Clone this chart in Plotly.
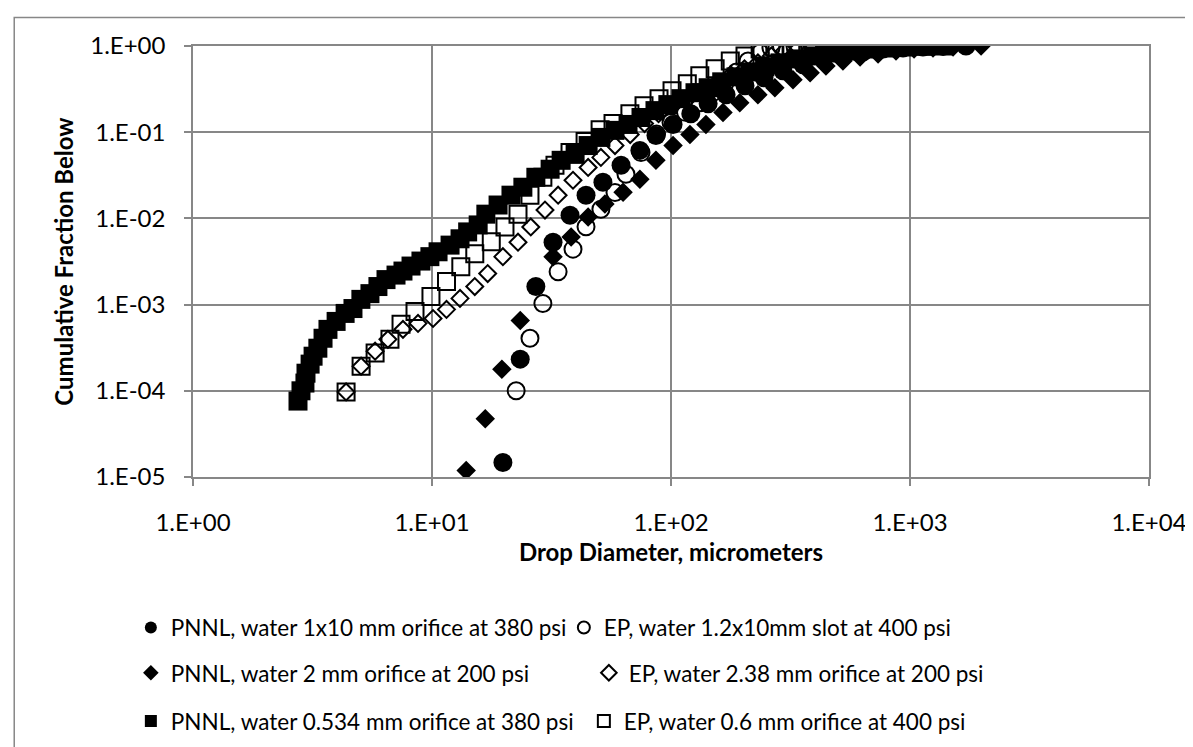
import plotly.graph_objects as go

# PNNL, water 1x10 mm orifice at 380 psi
PNNL_1X10_D = [19.8, 23.4, 27.2, 32.1, 37.8, 44.1, 51.9, 61.8, 74.1, 86.5, 102, 121, 143, 170,
               204, 245, 294, 357, 433, 524, 635, 771, 935, 1133, 1375, 1715]
PNNL_1X10_F = [1.47e-5, 2.33e-4, 1.62e-3, 5.3e-3, 1.09e-2, 1.86e-2, 2.63e-2, 4.13e-2, 6.15e-2,
               0.0916, 0.123, 0.164, 0.214, 0.272, 0.346, 0.428, 0.515, 0.604, 0.708, 0.787,
               0.853, 0.923, 0.948, 0.975, 0.99, 1.0]

# EP, water 1.2x10mm slot at 400 psi
EP_SLOT_D = [22.5, 25.7, 29.1, 33.7, 38.9, 44.1, 50.9, 58.3, 64.8, 74.9, 87, 100, 115, 132,
             150, 168, 188, 210, 236, 262, 290, 330, 380, 440]
EP_SLOT_F = [1.0e-4, 4.07e-4, 1.03e-3, 2.41e-3, 4.4e-3, 8.0e-3, 1.28e-2, 2.0e-2, 3.25e-2,
             5.8e-2, 0.095, 0.13, 0.17, 0.22, 0.29, 0.37, 0.50, 0.67, 0.83, 0.95, 0.99,
             1.0, 1.0, 1.0]

# PNNL, water 2 mm orifice at 200 psi
PNNL_2MM_D = [13.9, 16.7, 19.6, 23.4, 32.1, 38.2, 45.0, 52.9, 63.0, 74.1, 86.5, 102, 120,
              140, 165, 194, 231, 272, 324, 382, 445, 524, 618, 735, 874, 1040, 1248, 1514,
              1983]
PNNL_2MM_F = [1.19e-5, 4.73e-5, 1.78e-4, 6.56e-4, 3.59e-3, 6.1e-3, 1.04e-2, 1.47e-2, 2.01e-2,
              2.85e-2, 4.72e-2, 0.070, 0.094, 0.123, 0.169, 0.220, 0.272, 0.328, 0.405,
              0.489, 0.588, 0.671, 0.747, 0.809, 0.875, 0.923, 0.948, 0.975, 1.0]

# EP, water 2.38 mm orifice at 200 psi
EP_238_D = [4.37, 5.05, 5.78, 6.54, 7.56, 8.74, 10.1, 11.5, 13.1, 15.1, 17.1, 19.8, 22.9,
            25.9, 29.7, 33.7, 38.9, 45.0, 50.9, 58.3, 67.5, 77.5, 88.7, 102, 118, 135, 154,
            178, 203, 231, 263, 298, 342, 393, 453, 512]
EP_238_F = [9.7e-5, 1.93e-4, 2.88e-4, 3.95e-4, 5.16e-4, 6.05e-4, 6.9e-4, 8.8e-4, 1.18e-3,
            1.62e-3, 2.29e-3, 3.6e-3, 5.3e-3, 7.96e-3, 1.25e-2, 1.86e-2, 2.77e-2, 3.9e-2,
            5.1e-2, 0.07, 0.094, 0.126, 0.164, 0.203, 0.245, 0.295, 0.364, 0.463, 0.543,
            0.637, 0.767, 0.876, 0.948, 1.0, 1.0, 1.0]

# PNNL, water 0.534 mm orifice at 380 psi
PNNL_0534_D = [2.75, 2.83, 2.94, 2.97, 3.09, 3.18, 3.33, 3.50, 3.67, 3.97, 4.33, 4.67, 5.04,
               5.50, 5.94, 6.42, 7.07, 7.56, 8.17, 8.99, 9.8, 10.6, 11.9, 13.1, 14.1, 15.6,
               16.8, 18.9, 21.4, 24.0, 27.2, 31.2, 34.7, 39.7, 45.0, 50.9, 58.3, 66.1, 74.9,
               85.7, 97, 110, 126, 143, 163, 187, 214, 247, 286, 333, 393, 463, 550, 655,
               779, 935, 1130, 1375]
PNNL_0534_F = [7.6e-5, 1.0e-4, 1.23e-4, 1.6e-4, 2.04e-4, 2.52e-4, 3.12e-4, 4.07e-4, 5.16e-4,
               6.38e-4, 7.9e-4, 9.0e-4, 1.15e-3, 1.34e-3, 1.62e-3, 1.95e-3, 2.2e-3, 2.45e-3,
               2.8e-3, 3.2e-3, 3.6e-3, 4.1e-3, 4.9e-3, 5.8e-3, 6.97e-3, 8.4e-3, 1.12e-2,
               1.43e-2, 1.86e-2, 2.30e-2, 3.0e-2, 3.72e-2, 4.72e-2, 5.53e-2, 7.0e-2, 8.7e-2,
               0.105, 0.123, 0.148, 0.178, 0.209, 0.245, 0.287, 0.328, 0.384, 0.439, 0.501,
               0.573, 0.637, 0.708, 0.767, 0.830, 0.875, 0.923, 0.948, 0.974, 0.99, 1.0]

# EP, water 0.6 mm orifice at 400 psi
EP_06_D = [4.37, 5.05, 5.78, 6.67, 7.42, 8.49, 9.9, 11.5, 13.2, 15.1, 17.7, 20.2, 22.9, 25.7,
           29.1, 32.7, 37.8, 43.7, 50.5, 57.2, 67.3, 77.1, 89.1, 101, 117, 132, 153, 177,
           204, 236, 272, 318, 374, 441, 500]
EP_06_F = [9.7e-5, 1.93e-4, 2.74e-4, 3.95e-4, 5.9e-4, 8.3e-4, 1.24e-3, 1.85e-3, 2.75e-3,
           3.9e-3, 5.35e-3, 7.96e-3, 1.12e-2, 1.86e-2, 3.0e-2, 4.13e-2, 5.83e-2, 7.8e-2,
           0.107, 0.126, 0.164, 0.203, 0.245, 0.303, 0.365, 0.451, 0.543, 0.671, 0.767,
           0.923, 0.974, 1.0, 1.0, 1.0, 1.0]

X_TICKS = [1, 10, 100, 1000, 10000]
X_LABELS = ['1.E+00', '1.E+01', '1.E+02', '1.E+03', '1.E+04']
Y_TICKS = [1e-5, 1e-4, 1e-3, 1e-2, 1e-1, 1]
Y_LABELS = ['1.E-05', '1.E-04', '1.E-03', '1.E-02', '1.E-01', '1.E+00']

GRIS = '#878787'
FUENTE = 'Lato, Calibri, sans-serif'

series = [
    ('PNNL, water 1x10 mm orifice at 380 psi', PNNL_1X10_D, PNNL_1X10_F, 'circle', 19, 'legend'),
    ('EP, water 1.2x10mm slot at 400 psi', EP_SLOT_D, EP_SLOT_F, 'circle-open', 17, 'legend'),
    ('PNNL, water 2 mm orifice at 200 psi', PNNL_2MM_D, PNNL_2MM_F, 'diamond', 15, 'legend2'),
    ('EP, water 2.38 mm orifice at 200 psi', EP_238_D, EP_238_F, 'diamond-open', 13, 'legend2'),
    ('PNNL, water 0.534 mm orifice at 380 psi', PNNL_0534_D, PNNL_0534_F, 'square', 19, 'legend3'),
    ('EP, water 0.6 mm orifice at 400 psi', EP_06_D, EP_06_F, 'square-open', 17, 'legend3'),
]

fig = go.Figure()
for nombre, xs, ys, simbolo, tam, leyenda in series:
    abierto = simbolo.endswith('open')
    fig.add_trace(go.Scatter(
        x=xs, y=ys, name=nombre, mode='markers', legend=leyenda,
        marker=dict(symbol=simbolo, size=tam, color='black',
                    line=dict(color='black', width=2 if abierto else 0)),
    ))


def _leyenda(y, ancho):
    return dict(orientation='h', x=-0.065, xanchor='left', y=y, yanchor='middle',
                entrywidth=ancho, entrywidthmode='pixels', itemsizing='constant',
                font=dict(family=FUENTE, size=22.5, color='black'),
                bgcolor='rgba(0,0,0,0)', borderwidth=0)


eje = dict(type='log', showgrid=True, gridcolor=GRIS, gridwidth=1.5,
           showline=True, linecolor=GRIS, linewidth=1.5, mirror=True,
           ticks='outside', ticklen=7, tickcolor=GRIS, tickwidth=1.5,
           tickfont=dict(family=FUENTE, size=24, color='black'), zeroline=False)

fig.update_layout(
    width=1193, height=747,
    margin=dict(l=185, r=52, t=38, b=275),
    paper_bgcolor='white', plot_bgcolor='white',
    font=dict(family=FUENTE, size=24, color='black'),
    xaxis=dict(**eje, range=[0, 4], tickvals=X_TICKS, ticktext=X_LABELS,
               ticklabelstandoff=16,
               title=dict(text='<b>Drop Diameter, micrometers</b>', standoff=10,
                          font=dict(family=FUENTE, size=24))),
    yaxis=dict(**eje, range=[-5, 0], tickvals=Y_TICKS, ticktext=Y_LABELS,
               ticklabelstandoff=14,
               title=dict(text='<b>Cumulative Fraction Below</b>', standoff=10,
                          font=dict(family=FUENTE, size=24))),
    legend=_leyenda(-0.35, 388),
    legend2=_leyenda(-0.455, 413),
    legend3=_leyenda(-0.567, 408),
    shapes=[dict(type='rect', xref='paper', yref='paper',
                 x0=-0.187, x1=1.07, y0=-0.68, y1=1.066,
                 line=dict(color=GRIS, width=1.5), fillcolor='rgba(0,0,0,0)', layer='below')],
)

fig.write_html('out.html')
